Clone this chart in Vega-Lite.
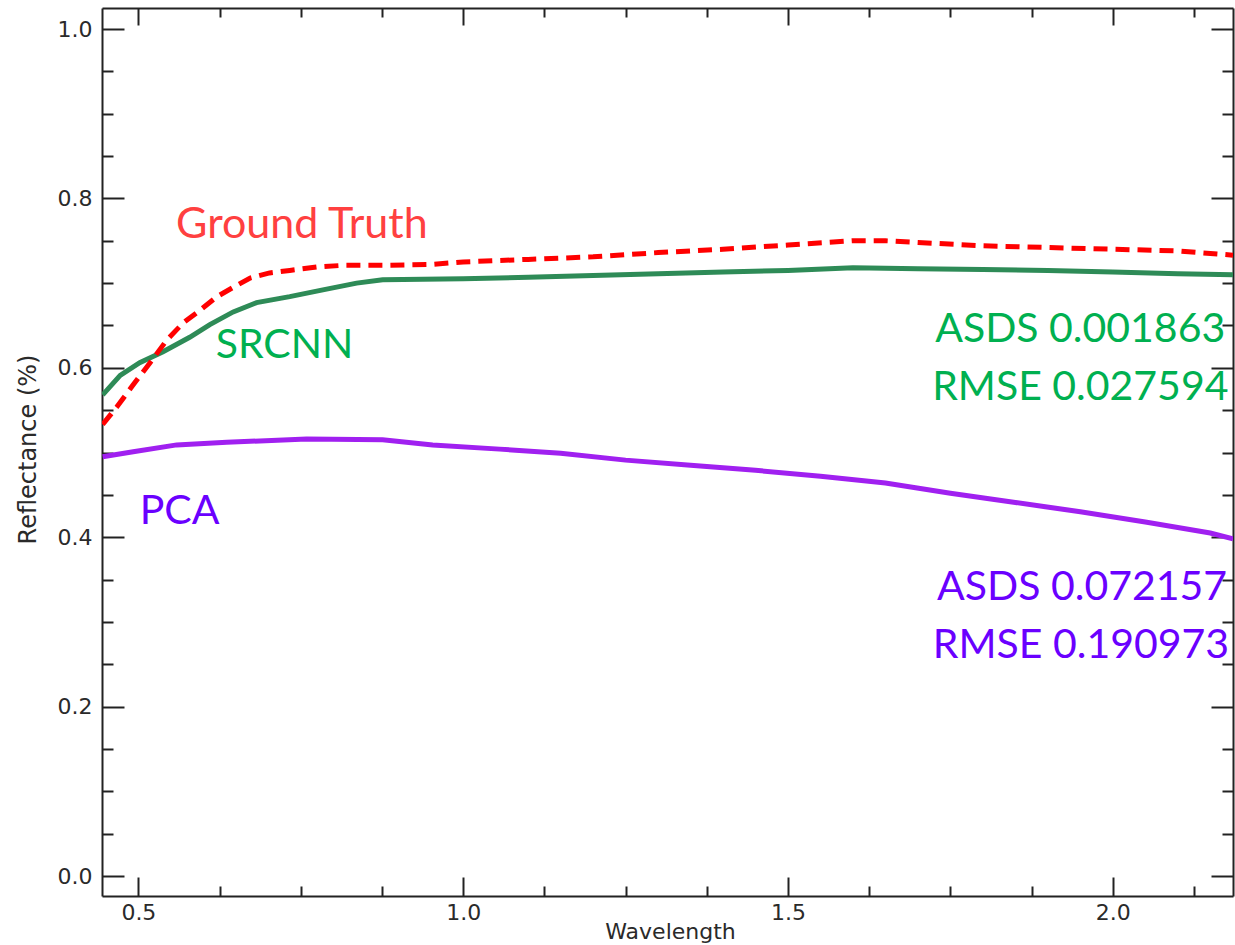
{
  "$schema": "https://vega.github.io/schema/vega-lite/v6.json",
  "width": 1131,
  "height": 888,
  "autosize": "none",
  "padding": {"left": 102, "top": 8, "right": 2, "bottom": 49},
  "background": "white",
  "config": {"view": {"stroke": null}},
  "datasets": {
    "spectra": [
      {"series": "PCA", "w": 0.445, "r": 0.495},
      {"series": "PCA", "w": 0.492, "r": 0.501},
      {"series": "PCA", "w": 0.559, "r": 0.509},
      {"series": "PCA", "w": 0.636, "r": 0.512},
      {"series": "PCA", "w": 0.759, "r": 0.516},
      {"series": "PCA", "w": 0.876, "r": 0.515},
      {"series": "PCA", "w": 0.953, "r": 0.509},
      {"series": "PCA", "w": 1.056, "r": 0.504},
      {"series": "PCA", "w": 1.15, "r": 0.499},
      {"series": "PCA", "w": 1.25, "r": 0.491},
      {"series": "PCA", "w": 1.35, "r": 0.485},
      {"series": "PCA", "w": 1.45, "r": 0.479},
      {"series": "PCA", "w": 1.55, "r": 0.472},
      {"series": "PCA", "w": 1.65, "r": 0.464},
      {"series": "PCA", "w": 1.75, "r": 0.452},
      {"series": "PCA", "w": 1.85, "r": 0.441},
      {"series": "PCA", "w": 1.95, "r": 0.43},
      {"series": "PCA", "w": 2.05, "r": 0.418},
      {"series": "PCA", "w": 2.15, "r": 0.405},
      {"series": "PCA", "w": 2.185, "r": 0.398},
      {"series": "SRCNN", "w": 0.445, "r": 0.568},
      {"series": "SRCNN", "w": 0.472, "r": 0.591},
      {"series": "SRCNN", "w": 0.502, "r": 0.606},
      {"series": "SRCNN", "w": 0.538, "r": 0.619},
      {"series": "SRCNN", "w": 0.579, "r": 0.636},
      {"series": "SRCNN", "w": 0.61, "r": 0.651},
      {"series": "SRCNN", "w": 0.646, "r": 0.666},
      {"series": "SRCNN", "w": 0.682, "r": 0.677},
      {"series": "SRCNN", "w": 0.733, "r": 0.684},
      {"series": "SRCNN", "w": 0.784, "r": 0.692},
      {"series": "SRCNN", "w": 0.836, "r": 0.7},
      {"series": "SRCNN", "w": 0.876, "r": 0.704},
      {"series": "SRCNN", "w": 1.0, "r": 0.705},
      {"series": "SRCNN", "w": 1.1, "r": 0.707},
      {"series": "SRCNN", "w": 1.2, "r": 0.709},
      {"series": "SRCNN", "w": 1.3, "r": 0.711},
      {"series": "SRCNN", "w": 1.4, "r": 0.713},
      {"series": "SRCNN", "w": 1.5, "r": 0.715},
      {"series": "SRCNN", "w": 1.6, "r": 0.718},
      {"series": "SRCNN", "w": 1.7, "r": 0.717},
      {"series": "SRCNN", "w": 1.8, "r": 0.716},
      {"series": "SRCNN", "w": 1.9, "r": 0.715},
      {"series": "SRCNN", "w": 2.0, "r": 0.713},
      {"series": "SRCNN", "w": 2.1, "r": 0.711},
      {"series": "SRCNN", "w": 2.185, "r": 0.71},
      {"series": "Ground Truth", "w": 0.445, "r": 0.533},
      {"series": "Ground Truth", "w": 0.467, "r": 0.554},
      {"series": "Ground Truth", "w": 0.492, "r": 0.58},
      {"series": "Ground Truth", "w": 0.518, "r": 0.606},
      {"series": "Ground Truth", "w": 0.544, "r": 0.633},
      {"series": "Ground Truth", "w": 0.569, "r": 0.653},
      {"series": "Ground Truth", "w": 0.595, "r": 0.668},
      {"series": "Ground Truth", "w": 0.621, "r": 0.684},
      {"series": "Ground Truth", "w": 0.646, "r": 0.695},
      {"series": "Ground Truth", "w": 0.672, "r": 0.706},
      {"series": "Ground Truth", "w": 0.702, "r": 0.712},
      {"series": "Ground Truth", "w": 0.733, "r": 0.715},
      {"series": "Ground Truth", "w": 0.775, "r": 0.719},
      {"series": "Ground Truth", "w": 0.815, "r": 0.721},
      {"series": "Ground Truth", "w": 0.876, "r": 0.721},
      {"series": "Ground Truth", "w": 0.95, "r": 0.722},
      {"series": "Ground Truth", "w": 1.0, "r": 0.725},
      {"series": "Ground Truth", "w": 1.1, "r": 0.728},
      {"series": "Ground Truth", "w": 1.2, "r": 0.731},
      {"series": "Ground Truth", "w": 1.3, "r": 0.736},
      {"series": "Ground Truth", "w": 1.4, "r": 0.74},
      {"series": "Ground Truth", "w": 1.5, "r": 0.745},
      {"series": "Ground Truth", "w": 1.6, "r": 0.75},
      {"series": "Ground Truth", "w": 1.65, "r": 0.75},
      {"series": "Ground Truth", "w": 1.7, "r": 0.748},
      {"series": "Ground Truth", "w": 1.8, "r": 0.744},
      {"series": "Ground Truth", "w": 1.9, "r": 0.742},
      {"series": "Ground Truth", "w": 2.0, "r": 0.74},
      {"series": "Ground Truth", "w": 2.1, "r": 0.738},
      {"series": "Ground Truth", "w": 2.185, "r": 0.733}
    ],
    "notesGT": [
      {"label": "Ground Truth", "group": "gt", "w": 0.558, "r": 0.753}
    ],
    "notesLeft": [
      {"label": "SRCNN", "group": "sr", "w": 0.619, "r": 0.612},
      {"label": "PCA", "group": "pca", "w": 0.502, "r": 0.4156}
    ],
    "notesRight": [
      {"label": "ASDS 0.001863", "group": "sr", "w": 2.173, "r": 0.6305},
      {"label": "RMSE 0.027594", "group": "sr", "w": 2.178, "r": 0.562},
      {"label": "ASDS 0.072157", "group": "pca", "w": 2.176, "r": 0.3259},
      {"label": "RMSE 0.190973", "group": "pca", "w": 2.179, "r": 0.2574}
    ]
  },
  "resolve": {"axis": {"x": "independent", "y": "independent"}, "scale": {"color": "independent"}},
  "layer": [
    {
      "data": {"name": "spectra"},
      "mark": {"type": "line", "strokeOpacity": 0},
      "encoding": {
        "x": {"field": "w", "type": "quantitative", "scale": {"domain": [0.444, 2.185], "nice": false, "zero": false},
          "axis": {"orient": "bottom", "values": [0.5, 1.0, 1.5, 2.0], "format": ".1f", "ticks": false, "grid": false,
            "domain": true, "domainColor": "#222", "domainWidth": 2,
            "labelFont": "DejaVu Sans", "labelFontSize": 22, "labelColor": "#2a2a2a", "labelPadding": 6, "labelBaseline": "top", "labelFlush": false, "labelOverlap": false,
            "title": "Wavelength", "titleFont": "DejaVu Sans", "titleFontSize": 22, "titleFontWeight": "normal", "titleColor": "#2a2a2a",
            "titleX": 568, "titleY": 42, "titleAlign": "center", "titleBaseline": "alphabetic"}},
        "y": {"field": "r", "type": "quantitative", "scale": {"domain": [-0.0236, 1.0248], "nice": false, "zero": false},
          "axis": {"orient": "left", "values": [0, 0.2, 0.4, 0.6, 0.8, 1.0], "format": ".1f", "ticks": false, "grid": false,
            "domain": true, "domainColor": "#222", "domainWidth": 2,
            "labelFont": "DejaVu Sans", "labelFontSize": 22, "labelColor": "#2a2a2a", "labelPadding": 10, "labelFlush": false, "labelOverlap": false,
            "title": "Reflectance (%)", "titleFont": "DejaVu Sans", "titleFontSize": 24, "titleFontWeight": "normal", "titleColor": "#2a2a2a",
            "titleAngle": -90, "titleX": -67, "titleY": 441, "titleAlign": "center", "titleBaseline": "alphabetic"}}
      }
    },
    {
      "data": {"name": "spectra"},
      "mark": {"type": "line", "strokeOpacity": 0},
      "encoding": {
        "x": {"field": "w", "type": "quantitative", "scale": {"domain": [0.444, 2.185], "nice": false, "zero": false},
          "axis": {"orient": "bottom", "values": [0.5, 1.0, 1.5, 2.0], "labels": false, "domain": false, "grid": false, "tickSize": -19, "tickWidth": 2, "tickColor": "#222", "title": null}},
        "y": {"field": "r", "type": "quantitative", "scale": {"domain": [-0.0236, 1.0248], "nice": false, "zero": false},
          "axis": {"orient": "left", "values": [0, 0.2, 0.4, 0.6, 0.8, 1.0], "labels": false, "domain": false, "grid": false, "tickSize": -22, "tickWidth": 2, "tickColor": "#222", "title": null}}
      }
    },
    {
      "data": {"name": "spectra"},
      "mark": {"type": "line", "strokeOpacity": 0},
      "encoding": {
        "x": {"field": "w", "type": "quantitative", "scale": {"domain": [0.444, 2.185], "nice": false, "zero": false},
          "axis": {"orient": "bottom", "values": [0.625, 0.75, 0.875, 1.125, 1.25, 1.375, 1.625, 1.75, 1.875, 2.125], "labels": false, "domain": false, "grid": false, "tickSize": -10, "tickWidth": 2, "tickColor": "#222", "title": null}},
        "y": {"field": "r", "type": "quantitative", "scale": {"domain": [-0.0236, 1.0248], "nice": false, "zero": false},
          "axis": {"orient": "left", "values": [0.05, 0.1, 0.15, 0.25, 0.3, 0.35, 0.45, 0.5, 0.55, 0.65, 0.7, 0.75, 0.85, 0.9, 0.95], "labels": false, "domain": false, "grid": false, "tickSize": -11, "tickWidth": 2, "tickColor": "#222", "title": null}}
      }
    },
    {
      "data": {"name": "spectra"},
      "mark": {"type": "line", "strokeOpacity": 0},
      "encoding": {
        "x": {"field": "w", "type": "quantitative", "scale": {"domain": [0.444, 2.185], "nice": false, "zero": false},
          "axis": {"orient": "top", "values": [0.5, 1.0, 1.5, 2.0], "labels": false, "domain": true, "domainColor": "#222", "domainWidth": 2, "grid": false, "tickSize": -17, "tickWidth": 2, "tickColor": "#222", "title": null}},
        "y": {"field": "r", "type": "quantitative", "scale": {"domain": [-0.0236, 1.0248], "nice": false, "zero": false},
          "axis": {"orient": "right", "values": [0, 0.2, 0.4, 0.6, 0.8, 1.0], "labels": false, "domain": true, "domainColor": "#222", "domainWidth": 2, "grid": false, "tickSize": -22, "tickWidth": 2, "tickColor": "#222", "title": null}}
      }
    },
    {
      "data": {"name": "spectra"},
      "mark": {"type": "line", "strokeOpacity": 0},
      "encoding": {
        "x": {"field": "w", "type": "quantitative", "scale": {"domain": [0.444, 2.185], "nice": false, "zero": false},
          "axis": {"orient": "top", "values": [0.625, 0.75, 0.875, 1.125, 1.25, 1.375, 1.625, 1.75, 1.875, 2.125], "labels": false, "domain": false, "grid": false, "tickSize": -9, "tickWidth": 2, "tickColor": "#222", "title": null}},
        "y": {"field": "r", "type": "quantitative", "scale": {"domain": [-0.0236, 1.0248], "nice": false, "zero": false},
          "axis": {"orient": "right", "values": [0.05, 0.1, 0.15, 0.25, 0.3, 0.35, 0.45, 0.5, 0.55, 0.65, 0.7, 0.75, 0.85, 0.9, 0.95], "labels": false, "domain": false, "grid": false, "tickSize": -11, "tickWidth": 2, "tickColor": "#222", "title": null}}
      }
    },
    {
      "data": {"name": "spectra"},
      "transform": [{"filter": "datum.series === 'PCA'"}],
      "mark": {"type": "line", "stroke": "#A020F0", "strokeWidth": 5, "clip": true},
      "encoding": {
        "x": {"field": "w", "type": "quantitative", "scale": {"domain": [0.444, 2.185], "nice": false, "zero": false}, "axis": null},
        "y": {"field": "r", "type": "quantitative", "scale": {"domain": [-0.0236, 1.0248], "nice": false, "zero": false}, "axis": null}
      }
    },
    {
      "data": {"name": "spectra"},
      "transform": [{"filter": "datum.series === 'SRCNN'"}],
      "mark": {"type": "line", "stroke": "#2E8B57", "strokeWidth": 5, "clip": true},
      "encoding": {
        "x": {"field": "w", "type": "quantitative", "scale": {"domain": [0.444, 2.185], "nice": false, "zero": false}, "axis": null},
        "y": {"field": "r", "type": "quantitative", "scale": {"domain": [-0.0236, 1.0248], "nice": false, "zero": false}, "axis": null}
      }
    },
    {
      "data": {"name": "spectra"},
      "transform": [{"filter": "datum.series === 'Ground Truth'"}],
      "mark": {"type": "line", "stroke": "#FF0000", "strokeWidth": 5, "strokeDash": [14, 8], "clip": true},
      "encoding": {
        "x": {"field": "w", "type": "quantitative", "scale": {"domain": [0.444, 2.185], "nice": false, "zero": false}, "axis": null},
        "y": {"field": "r", "type": "quantitative", "scale": {"domain": [-0.0236, 1.0248], "nice": false, "zero": false}, "axis": null}
      }
    },
    {
      "data": {"name": "notesGT"},
      "mark": {"type": "text", "align": "left", "baseline": "alphabetic", "font": "Lato", "fontSize": 43},
      "encoding": {
        "x": {"field": "w", "type": "quantitative", "scale": {"domain": [0.444, 2.185], "nice": false, "zero": false}, "axis": null},
        "y": {"field": "r", "type": "quantitative", "scale": {"domain": [-0.0236, 1.0248], "nice": false, "zero": false}, "axis": null},
        "text": {"field": "label"},
        "color": {"value": "#FF4040"}
      }
    },
    {
      "data": {"name": "notesLeft"},
      "mark": {"type": "text", "align": "left", "baseline": "alphabetic", "font": "Lato", "fontSize": 41},
      "encoding": {
        "x": {"field": "w", "type": "quantitative", "scale": {"domain": [0.444, 2.185], "nice": false, "zero": false}, "axis": null},
        "y": {"field": "r", "type": "quantitative", "scale": {"domain": [-0.0236, 1.0248], "nice": false, "zero": false}, "axis": null},
        "text": {"field": "label"},
        "color": {"field": "group", "type": "nominal", "scale": {"domain": ["sr", "pca"], "range": ["#00B050", "#6A00FF"]}, "legend": null}
      }
    },
    {
      "data": {"name": "notesRight"},
      "mark": {"type": "text", "align": "right", "baseline": "alphabetic", "font": "Lato", "fontSize": 41},
      "encoding": {
        "x": {"field": "w", "type": "quantitative", "scale": {"domain": [0.444, 2.185], "nice": false, "zero": false}, "axis": null},
        "y": {"field": "r", "type": "quantitative", "scale": {"domain": [-0.0236, 1.0248], "nice": false, "zero": false}, "axis": null},
        "text": {"field": "label"},
        "color": {"field": "group", "type": "nominal", "scale": {"domain": ["sr", "pca"], "range": ["#00B050", "#6A00FF"]}, "legend": null}
      }
    }
  ]
}
